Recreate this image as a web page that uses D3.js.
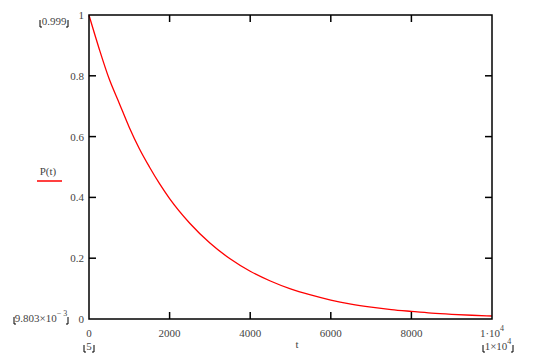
<!DOCTYPE html>
<html>
<head>
<meta charset="utf-8">
<script src="https://cdn.jsdelivr.net/npm/d3@7"></script>
<style>
  body { margin: 0; background: #fff; }
  svg text { font-family: "Times New Roman", "Liberation Serif", "DejaVu Serif", serif; fill: #444; }
</style>
</head>
<body>
<div id="chart"></div>
<script>
// P(t) values
var tValues = [0, 250, 500, 750, 1000, 1250, 1500, 1750, 2000, 2500, 3000, 3500, 4000, 4500, 5000, 5500, 6000, 6500, 7000, 7500, 8000, 8500, 9000, 9500, 10000];
var pValues = [0.999, 0.89, 0.79, 0.71, 0.63, 0.56, 0.50, 0.445, 0.396, 0.315, 0.25, 0.198, 0.157, 0.125, 0.099, 0.079, 0.062, 0.049, 0.039, 0.031, 0.025, 0.0195, 0.0155, 0.0123, 0.0098];
var xTicks = [0, 2000, 4000, 6000, 8000, 10000];
var xTickLabels = ['0', '2000', '4000', '6000', '8000', '1\u00b710'];
var yTicks = [0, 0.2, 0.4, 0.6, 0.8, 1];
var yTickLabels = ['0', '0.2', '0.4', '0.6', '0.8', '1'];

var svgWidth = 533, svgHeight = 355,
    plotLeft = 89, plotRight = 492, plotTop = 15, plotBottom = 319,
    tickLen = 7;

var svg = d3.select('#chart').append('svg')
  .attr('width', svgWidth)
  .attr('height', svgHeight)
  .attr('font-family', '"Times New Roman", "Liberation Serif", serif');

var x = d3.scaleLinear().domain([0, 10000]).range([plotLeft, plotRight]);
var y = d3.scaleLinear().domain([0, 1]).range([plotBottom, plotTop]);

// inward ticks on all four sides
var g = svg.append('g').attr('stroke', '#000').attr('stroke-width', 1.5);
xTicks.slice(1, -1).forEach(function(d){
  g.append('line').attr('x1', x(d)).attr('x2', x(d)).attr('y1', plotBottom).attr('y2', plotBottom - tickLen);
  g.append('line').attr('x1', x(d)).attr('x2', x(d)).attr('y1', plotTop).attr('y2', plotTop + tickLen);
});
yTicks.slice(1, -1).forEach(function(d){
  g.append('line').attr('x1', plotLeft).attr('x2', plotLeft + tickLen).attr('y1', y(d)).attr('y2', y(d));
  g.append('line').attr('x1', plotRight).attr('x2', plotRight - tickLen).attr('y1', y(d)).attr('y2', y(d));
});

// tick labels
yTicks.forEach(function(d, i){
  svg.append('text')
    .attr('x', plotLeft - 5).attr('y', y(d) + 4)
    .attr('text-anchor', 'end')
    .attr('font-size', 11)
    .text(yTickLabels[i]);
});
xTicks.forEach(function(d, i){
  var t = svg.append('text')
    .attr('x', x(d)).attr('y', plotBottom + 18)
    .attr('text-anchor', 'middle')
    .attr('font-size', 11)
    .text(xTickLabels[i]);
  if (d === 10000) {
    t.append('tspan').attr('dy', -6).attr('font-size', 8).text('4');
  }
});

// curve
var line = d3.line()
  .x(function(d, i){ return x(tValues[i]); })
  .y(function(d){ return y(d); })
  .curve(d3.curveMonotoneX);

svg.append('path')
  .datum(pValues)
  .attr('fill', 'none')
  .attr('stroke', '#ff0000')
  .attr('stroke-width', 1.3)
  .attr('d', line);

// frame
svg.append('rect')
  .attr('x', plotLeft).attr('y', plotTop)
  .attr('width', plotRight - plotLeft).attr('height', plotBottom - plotTop)
  .attr('fill', 'none')
  .attr('stroke', '#000')
  .attr('stroke-width', 1.5);

// axis limit placeholders with corner brackets
function bracketed(cx, cy, w, build){
  var t = svg.append('text')
    .attr('x', cx).attr('y', cy)
    .attr('text-anchor', 'middle')
    .attr('font-size', 11);
  build(t);
  var x0 = cx - w / 2 - 2, x1 = cx + w / 2 + 2;
  svg.append('path')
    .attr('d', 'M' + x0 + ',' + (cy - 5) + 'V' + (cy + 2) + 'H' + (x0 + 2) +
               'M' + x1 + ',' + (cy - 5) + 'V' + (cy + 2) + 'H' + (x1 - 2))
    .attr('fill', 'none').attr('stroke', '#000').attr('stroke-width', 1);
}

bracketed(54, 25, 24, function(t){ t.text('0.999'); });
bracketed(41, 322, 50, function(t){
  t.text('9.803\u00d710');
  t.append('tspan').attr('dy', -6).attr('font-size', 8).text('\u2212 3');
});
bracketed(89, 350, 6, function(t){ t.text('5'); });
bracketed(498, 350, 26, function(t){
  t.text('1\u00d710');
  t.append('tspan').attr('dy', -6).attr('font-size', 8).text('4');
});

// axis titles
svg.append('text')
  .attr('x', 297).attr('y', 348)
  .attr('text-anchor', 'middle')
  .attr('font-size', 11)
  .text('t');
svg.append('text')
  .attr('x', 48).attr('y', 175)
  .attr('text-anchor', 'middle')
  .attr('font-size', 11)
  .text('P(t)');
svg.append('line')
  .attr('x1', 37).attr('x2', 62)
  .attr('y1', 181).attr('y2', 181)
  .attr('stroke', '#ff0000')
  .attr('stroke-width', 1.5);
</script>
</body>
</html>
